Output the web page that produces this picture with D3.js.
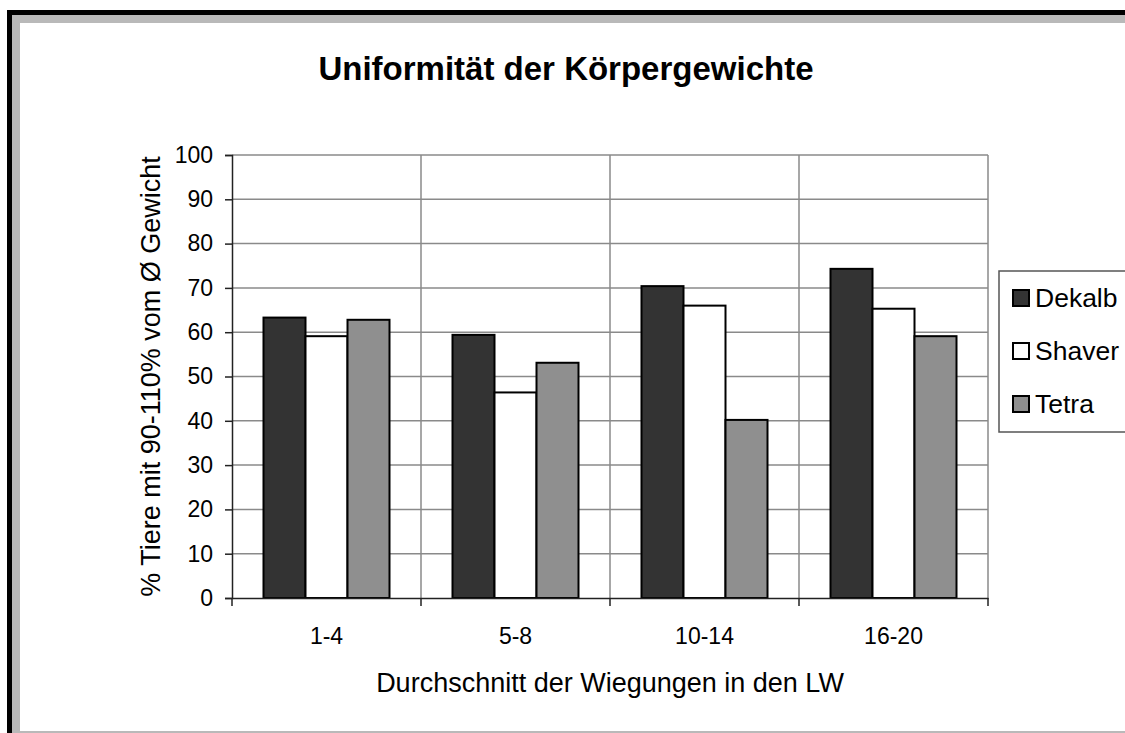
<!DOCTYPE html>
<html>
<head>
<meta charset="utf-8">
<script src="https://cdn.jsdelivr.net/npm/d3@7"></script>
<style>
  body { margin: 0; background: #fff; }
  svg { display: block; font-family: "Liberation Sans", Arial, sans-serif; }
</style>
</head>
<body>
<svg width="1125" height="733"></svg>
<script>
// Data
var categories = ["1-4", "5-8", "10-14", "16-20"];
var seriesNames = ["Dekalb", "Shaver", "Tetra"];
var dekalb = [63.3, 59.4, 70.4, 74.3];
var shaver = [59.1, 46.4, 66.0, 65.3];
var tetra = [62.8, 53.1, 40.2, 59.1];
var yTicks = [0, 10, 20, 30, 40, 50, 60, 70, 80, 90, 100];
var colors = ["#333333", "#ffffff", "#8f8f8f"];

var svg = d3.select("svg"),
  width = +svg.attr("width"),
  height = +svg.attr("height");

// frame (black edge, grey band, white inner)
svg.append("rect").attr("x", 7).attr("y", 10).attr("width", 1300).attr("height", 900).attr("fill", "#000");
svg.append("rect").attr("x", 12).attr("y", 15).attr("width", 1300).attr("height", 900).attr("fill", "#b9b9b9");
svg.append("rect").attr("x", 20).attr("y", 23).attr("width", 1300).attr("height", 708).attr("fill", "#fff");

var plotLeft = 232, plotRight = 988, plotTop = 155, plotBottom = 598;

var x = d3.scaleBand().domain(categories).range([plotLeft, plotRight]);
var xs = d3.scaleBand().domain(seriesNames).range([0, x.bandwidth()]).paddingInner(0).paddingOuter(0.75);
var y = d3.scaleLinear().domain([0, 100]).range([plotBottom, plotTop]);

// horizontal gridlines
svg.append("g")
  .selectAll("line")
  .data(yTicks.slice(1))
  .enter()
  .append("line")
  .attr("x1", plotLeft).attr("x2", plotRight)
  .attr("y1", function (d) { return y(d); })
  .attr("y2", function (d) { return y(d); })
  .attr("stroke", "#8a8a8a")
  .attr("stroke-width", 1.5);

// vertical gridlines at category boundaries
var bounds = categories.map(function (c) { return x(c) + x.bandwidth(); });
svg.append("g")
  .selectAll("line")
  .data(bounds)
  .enter()
  .append("line")
  .attr("x1", function (d) { return d; })
  .attr("x2", function (d) { return d; })
  .attr("y1", plotTop).attr("y2", plotBottom)
  .attr("stroke", "#8a8a8a")
  .attr("stroke-width", 1.5);

// bars
var series = [dekalb, shaver, tetra];
var groups = svg.append("g")
  .selectAll("g")
  .data(series)
  .enter()
  .append("g")
  .attr("fill", function (d, i) { return colors[i]; });

groups.selectAll("rect")
  .data(function (d, i) {
    return d.map(function (v, j) { return { s: seriesNames[i], c: categories[j], v: v }; });
  })
  .enter()
  .append("rect")
  .attr("x", function (d) { return x(d.c) + xs(d.s); })
  .attr("width", xs.bandwidth())
  .attr("y", function (d) { return y(d.v); })
  .attr("height", function (d) { return plotBottom - y(d.v); })
  .attr("stroke", "#000")
  .attr("stroke-width", 2);

// y axis
var yAxis = svg.append("g")
  .attr("transform", "translate(" + plotLeft + ",0)")
  .call(d3.axisLeft(y).tickValues(yTicks).tickSize(7).tickPadding(12));
yAxis.select(".domain").attr("stroke", "#222").attr("stroke-width", 1.5);
yAxis.selectAll(".tick line").attr("stroke", "#222").attr("stroke-width", 1.5);
yAxis.selectAll("text").attr("font-size", 23).attr("fill", "#000").attr("font-family", "Liberation Sans, Arial, sans-serif");

// x axis
var xAxis = svg.append("g")
  .attr("transform", "translate(0," + plotBottom + ")")
  .call(d3.axisBottom(x).tickSize(0).tickPadding(30));
xAxis.select(".domain").attr("stroke", "#222").attr("stroke-width", 1.5);
xAxis.selectAll("text").attr("font-size", 23).attr("fill", "#000").attr("font-family", "Liberation Sans, Arial, sans-serif");

svg.append("g")
  .selectAll("line")
  .data([plotLeft].concat(bounds))
  .enter()
  .append("line")
  .attr("x1", function (d) { return d; })
  .attr("x2", function (d) { return d; })
  .attr("y1", plotBottom).attr("y2", plotBottom + 8)
  .attr("stroke", "#222")
  .attr("stroke-width", 1.5);

// title
svg.append("text")
  .attr("x", 566).attr("y", 80)
  .attr("text-anchor", "middle")
  .attr("font-size", 33).attr("font-weight", "bold")
  .text("Uniformität der Körpergewichte");

// axis titles
svg.append("text")
  .attr("x", 610).attr("y", 692)
  .attr("text-anchor", "middle")
  .attr("font-size", 27)
  .text("Durchschnitt der Wiegungen in den LW");

svg.append("text")
  .attr("transform", "translate(160," + ((plotTop + plotBottom) / 2) + ") rotate(-90)")
  .attr("text-anchor", "middle")
  .attr("font-size", 27)
  .text("% Tiere mit 90-110% vom Ø Gewicht");

// legend
var legend = svg.append("g");
legend.append("rect")
  .attr("x", 999).attr("y", 271).attr("width", 200).attr("height", 161)
  .attr("fill", "#fff").attr("stroke", "#555").attr("stroke-width", 1.5);

var items = legend.selectAll("g.item")
  .data(seriesNames)
  .enter()
  .append("g")
  .attr("class", "item")
  .attr("transform", function (d, i) { return "translate(0," + (298 + i * 53) + ")"; });

items.append("rect")
  .attr("x", 1013).attr("y", -8).attr("width", 16).attr("height", 16)
  .attr("fill", function (d, i) { return colors[i]; })
  .attr("stroke", "#000").attr("stroke-width", 2);

items.append("text")
  .attr("x", 1035).attr("y", 9)
  .attr("font-size", 26.5)
  .text(function (d) { return d; });
</script>
</body>
</html>
